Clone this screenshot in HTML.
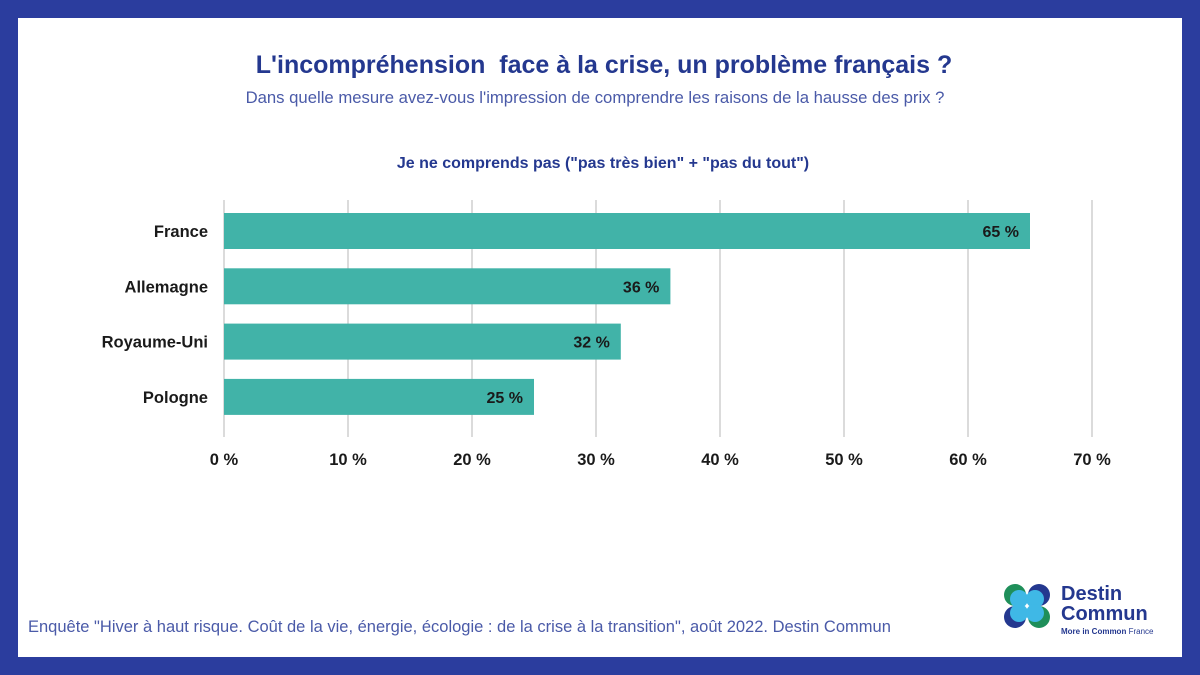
<!DOCTYPE html>
<html><head><meta charset="utf-8"><style>
body{margin:0;width:1200px;height:675px;background:#2b3d9e;font-family:"Liberation Sans",sans-serif;overflow:hidden}
#panel{position:absolute;left:18px;top:18px;width:1164px;height:639px;background:#fff}
.t{position:absolute;white-space:nowrap}
</style></head><body>
<div id="panel"></div>
<div class="t" style="left:0;width:1208px;text-align:center;top:51px;font-size:25px;font-weight:bold;color:#24388f">L'incompréhension&nbsp; face à la crise, un problème français ?</div>
<div class="t" style="left:0;width:1190px;text-align:center;top:88px;font-size:16.7px;color:#4a5aa8">Dans quelle mesure avez-vous l'impression de comprendre les raisons de la hausse des prix ?</div>
<div class="t" style="left:0;width:1206px;text-align:center;top:155px;font-size:16px;font-weight:bold;color:#24388f">Je ne comprends pas ("pas très bien" + "pas du tout")</div>
<svg id="chart" width="1200" height="675" style="position:absolute;left:0;top:0"></svg>
<div class="t" style="left:28px;top:618px;font-size:16.5px;color:#4a5aa8">Enquête "Hiver à haut risque. Coût de la vie, énergie, écologie : de la crise à la transition", août 2022. Destin Commun</div>
<svg width="50" height="46" style="position:absolute;left:1003px;top:583px">
<circle cx="12" cy="12" r="11" fill="#1f8f5a"/><circle cx="36" cy="12" r="11" fill="#24388f"/>
<circle cx="12" cy="34" r="11" fill="#24388f"/><circle cx="36" cy="34" r="11" fill="#1f8f5a"/>
<circle cx="16" cy="16" r="9" fill="#3fb8e6"/><circle cx="32" cy="16" r="9" fill="#3fb8e6"/>
<circle cx="16" cy="30" r="9" fill="#3fb8e6"/><circle cx="32" cy="30" r="9" fill="#3fb8e6"/>
</svg>
<div class="t" style="left:1061px;top:584px;font-size:20px;font-weight:bold;color:#24388f;line-height:20px">Destin<br>Commun</div>
<div class="t" style="left:1061px;top:627px;font-size:8px;color:#24388f"><b>More in Common</b> France</div>
<script>
const categories=["France","Allemagne","Royaume-Uni","Pologne"];
const values=[65,36,32,25];
const ticks=[0,10,20,30,40,50,60,70];
const svg=document.getElementById('chart');const NS='http://www.w3.org/2000/svg';
const x=v=>224+v*12.4;
const yTop=i=>213+i*55.3;
function mk(t,a){const e=document.createElementNS(NS,t);for(const k in a)e.setAttribute(k,a[k]);svg.appendChild(e);return e;}
ticks.forEach(t=>{
 const l=mk('line',{x1:x(t),x2:x(t),y1:200,y2:437,stroke:'#cfcfcf','stroke-width':1.5});
 
 
 const tx=mk('text',{x:x(t),y:465,'text-anchor':'middle','font-size':16.5,'font-weight':'bold',fill:'#1a1a1a','font-family':'Liberation Sans'});
 tx.textContent=t+' %';
 
 
});
categories.forEach((c,i)=>{
 const r=mk('rect',{x:x(0),y:yTop(i),width:x(values[i])-x(0),height:36,fill:'#41b3a8'});
 
 
 const lb=mk('text',{x:208,y:yTop(i)+24,'text-anchor':'end','font-size':16.5,'font-weight':'bold',fill:'#1a1a1a','font-family':'Liberation Sans'});
 lb.textContent=c;
 
 
 const v=mk('text',{x:x(values[i])-11,y:yTop(i)+24,'text-anchor':'end','font-size':16,'font-weight':'bold',fill:'#1a1a1a','font-family':'Liberation Sans'});
 v.textContent=values[i]+' %';
 
 
});
</script>
</body></html>
